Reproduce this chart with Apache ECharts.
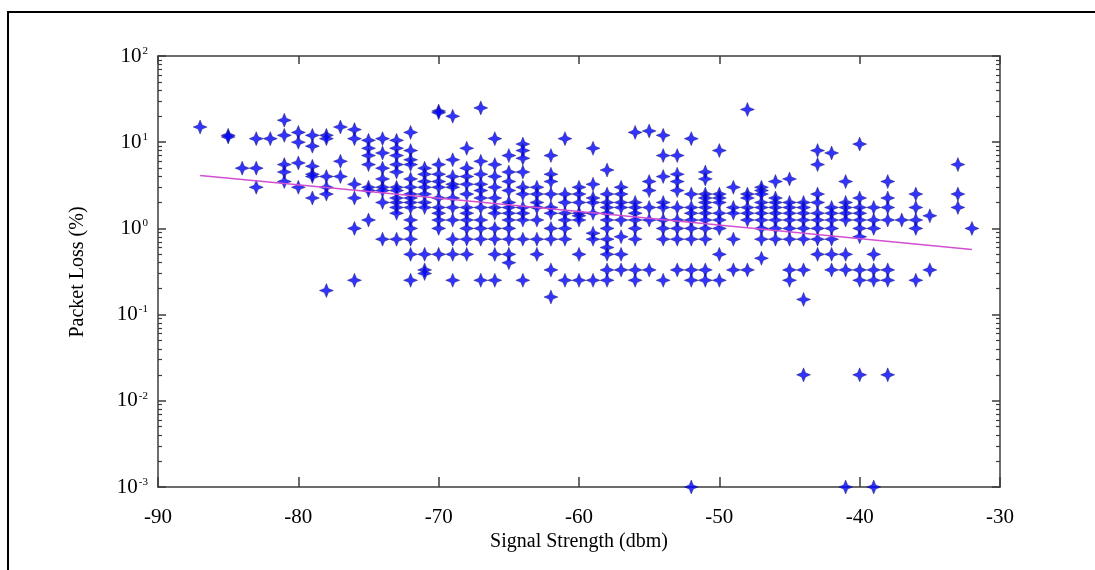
<!DOCTYPE html>
<html>
<head>
<meta charset="utf-8">
<script src="https://cdn.jsdelivr.net/npm/echarts@6/dist/echarts.min.js"></script>
<style>
  html, body { margin: 0; padding: 0; background: #ffffff; }
  #chart { width: 1095px; height: 570px; }
</style>
</head>
<body>
<div id="chart"></div>
<script>
// signal strength columns (dbm) and the packet loss values (%) seen in each column
const dbmColumns = [-87, -85, -84, -83, -82, -81, -80, -79, -78, -77, -76, -75, -74, -73, -72, -71, -70,
  -69, -68, -67, -66, -65, -64, -63, -62, -61, -60, -59, -58, -57, -56, -55, -54, -53, -52, -51, -50,
  -49, -48, -47, -46, -45, -44, -43, -42, -41, -40, -39, -38, -37, -36, -35, -33, -32]
const lossColumns = [
  [15],
  [12, 11.5],
  [5],
  [11, 5, 3],
  [11],
  [18, 12, 5.5, 4.5, 3.5],
  [13, 10, 5.75, 3],
  [12, 9, 5.25, 4.25, 4, 2.25],
  [12, 11, 4, 3, 2.5, 0.19],
  [15, 6, 4],
  [14, 11, 3.25, 2.25, 1, 0.25],
  [10.5, 8.5, 7, 5.5, 3, 2.75, 1.25],
  [11, 7.5, 5, 3.75, 3, 2.75, 2, 0.75],
  [10.5, 8.5, 7, 5.5, 4.5, 3, 2.75, 2.25, 2, 1.75, 1.5, 0.75],
  [13, 8, 6.25, 5.5, 3.75, 3, 2.5, 2.25, 2, 1.75, 1.25, 1, 0.75, 0.5, 0.25],
  [5, 4.25, 3.5, 3, 2.5, 2, 1.75, 0.5, 0.33, 0.3],
  [23, 22, 5.5, 4.25, 3.5, 3, 2.25, 1.75, 1.5, 1.25, 1, 0.5],
  [20, 6.25, 4, 3.25, 3, 2.25, 1.75, 1.25, 0.75, 0.5, 0.25],
  [8.5, 5, 4, 3.25, 2.5, 1.75, 1.5, 1.25, 1, 0.75, 0.5],
  [25, 6, 4.25, 3.25, 2.75, 2.25, 1.75, 1.25, 1, 0.75, 0.25],
  [11, 5.5, 4, 3, 2.25, 1.75, 1.5, 1, 0.75, 0.5, 0.25],
  [7, 4.5, 3.5, 2.75, 2, 1.75, 1.5, 1.25, 1, 0.75, 0.5, 0.4],
  [9.5, 8, 6.5, 4.5, 3, 2.5, 1.75, 1.5, 1.25, 0.75, 0.25],
  [3, 2.5, 2, 1.75, 1.25, 0.75, 0.5],
  [7, 4.25, 3.5, 2.5, 1.75, 1.5, 1, 0.75, 0.33, 0.16],
  [11, 2.5, 2, 1.5, 1.25, 1, 0.75, 0.25],
  [3, 2.5, 2, 1.5, 1.4, 1.25, 0.5, 0.25],
  [8.5, 3.25, 2.25, 2, 1.5, 0.88, 0.75, 0.25],
  [4.75, 2.5, 2, 1.75, 1.5, 1.25, 1, 0.75, 0.6, 0.5, 0.33, 0.25],
  [3, 2.5, 2, 1.75, 1.25, 0.8, 0.5, 0.33],
  [13, 2, 1.75, 1.5, 1.25, 1, 0.75, 0.33, 0.25],
  [13.5, 3.5, 2.75, 1.75, 1.25, 0.33],
  [12, 7, 4, 2, 1.75, 1.25, 1, 0.75, 0.25],
  [7, 4.25, 3.5, 2.75, 1.75, 1.25, 1, 0.75, 0.33],
  [11, 2.5, 1.75, 1.5, 1.25, 1, 0.75, 0.33, 0.25, 0.001],
  [4.5, 3.75, 2.5, 2.25, 2, 1.75, 1.5, 1.25, 1, 0.75, 0.33, 0.25],
  [8, 2.5, 2.25, 2, 1.5, 1.25, 1, 0.5, 0.25],
  [3, 1.75, 1.5, 0.75, 0.33],
  [24, 2.5, 2.25, 1.75, 1.5, 1.25, 0.33],
  [3, 2.75, 2.5, 2, 1.75, 1.5, 1.25, 1, 0.75, 0.45],
  [3.5, 2.25, 2, 1.75, 1.5, 1.25, 1, 0.75],
  [3.75, 2, 1.75, 1.5, 1.25, 1, 0.75, 0.33, 0.25],
  [2, 1.75, 1.5, 1.25, 1, 0.75, 0.33, 0.15, 0.02],
  [8, 5.5, 2.5, 2, 1.5, 1.25, 1, 0.75, 0.5],
  [7.5, 1.75, 1.5, 1.25, 1, 0.75, 0.5, 0.33],
  [3.5, 2, 1.75, 1.5, 1.25, 0.5, 0.33, 0.001],
  [9.5, 2.25, 1.75, 1.5, 1.25, 1, 0.8, 0.33, 0.25, 0.02],
  [1.75, 1.25, 1, 0.5, 0.33, 0.25, 0.001],
  [3.5, 2.25, 1.75, 1.25, 0.33, 0.25, 0.02],
  [1.25],
  [2.5, 1.75, 1.25, 1, 0.25],
  [1.4, 0.33],
  [5.5, 2.5, 1.75],
  [1]
]

// fitted trend (magenta line)
const fitDbm = [-87, -60, -32]
const fitLoss = [4.1, 1.57, 0.57]

// decade ticks of the log axis
const yDecades = [0.001, 0.01, 0.1, 1, 10, 100]

var points = []
dbmColumns.forEach(function (x, i) {
  lossColumns[i].forEach(function (v) { points.push([x, v]) })
})
var fitLine = fitDbm.map(function (x, i) { return [x, fitLoss[i]] })

var minorVals = []
yDecades.slice(0, -1).forEach(function (d) {
  for (let k = 2; k <= 9; k++) minorVals.push(+(d * k).toPrecision(3))
})

var serif = 'Liberation Serif, Times New Roman, serif'
var axisColor = '#3c3c3c'
// four-point star, close to the blurred '*' markers of the original
var starPath = 'path://M10,0 L12.9,7.1 L20,10 L12.9,12.9 L10,20 L7.1,12.9 L0,10 L7.1,7.1 Z'

function yAxisBase (pos) {
  return {
    type: 'log',
    logBase: 10,
    min: 0.001,
    max: 100,
    position: pos,
    splitLine: { show: false },
    axisLine: { show: true, lineStyle: { color: axisColor, width: 1.5 } },
    axisTick: { inside: true, length: 8, customValues: yDecades, lineStyle: { color: axisColor, width: 1.5 } },
    axisLabel: { show: false }
  }
}
function yMinor (pos) {
  return {
    type: 'log',
    logBase: 10,
    min: 0.001,
    max: 100,
    position: pos,
    splitLine: { show: false },
    axisLine: { show: false },
    axisTick: { inside: true, length: 4, customValues: minorVals, lineStyle: { color: axisColor, width: 1.2 } },
    axisLabel: { show: false }
  }
}

var leftAxis = yAxisBase('left')
leftAxis.axisLabel = {
  show: true,
  customValues: yDecades,
  margin: 10,
  formatter: function (v) {
    return '{b|10}{e|' + Math.round(Math.log10(v)) + '}'
  },
  rich: {
    b: { fontFamily: serif, fontSize: 21, color: '#000' },
    e: { fontFamily: serif, fontSize: 11, color: '#000', verticalAlign: 'top', padding: [0, 0, 0, 1] }
  }
}

var option = {
  animation: false,
  backgroundColor: '#ffffff',
  grid: { left: 158, top: 56, right: 95, bottom: 83 },
  xAxis: [{
    type: 'value',
    min: -90,
    max: -30,
    interval: 10,
    position: 'bottom',
    splitLine: { show: false },
    axisLine: { lineStyle: { color: axisColor, width: 1.5 } },
    axisTick: { inside: true, length: 10, lineStyle: { color: axisColor, width: 1.5 } },
    axisLabel: { margin: 20, fontFamily: serif, fontSize: 21, color: '#000' }
  }, {
    type: 'value',
    min: -90,
    max: -30,
    interval: 10,
    position: 'top',
    splitLine: { show: false },
    axisLine: { lineStyle: { color: axisColor, width: 1.5 } },
    axisTick: { inside: true, length: 8, lineStyle: { color: axisColor, width: 1.5 } },
    axisLabel: { show: false }
  }],
  yAxis: [leftAxis, yMinor('left'), yAxisBase('right'), yMinor('right')],
  series: [{
    type: 'scatter',
    data: points,
    symbol: starPath,
    symbolSize: 14,
    itemStyle: { color: '#0000ff', borderColor: 'rgba(20,20,90,0.6)', borderWidth: 0.9 },
    z: 2
  }, {
    type: 'line',
    data: fitLine,
    symbol: 'none',
    lineStyle: { color: '#d24fd2', width: 1.6 },
    z: 3
  }],
  graphic: [{
    type: 'rect',
    shape: { x: 8, y: 12, width: 1200, height: 700 },
    style: { fill: 'none', stroke: '#000', lineWidth: 2 },
    silent: true
  }, {
    type: 'text',
    x: 579,
    y: 542,
    style: { text: 'Signal Strength (dbm)', fontFamily: serif, fontSize: 20, fill: '#000', align: 'center', verticalAlign: 'middle' }
  }, {
    type: 'text',
    x: 78,
    y: 272,
    rotation: Math.PI / 2,
    style: { text: 'Packet Loss (%)', fontFamily: serif, fontSize: 20, fill: '#000', align: 'center', verticalAlign: 'middle' }
  }]
}

var myChart = echarts.init(document.getElementById('chart'))
myChart.setOption(option)
</script>
</body>
</html>
